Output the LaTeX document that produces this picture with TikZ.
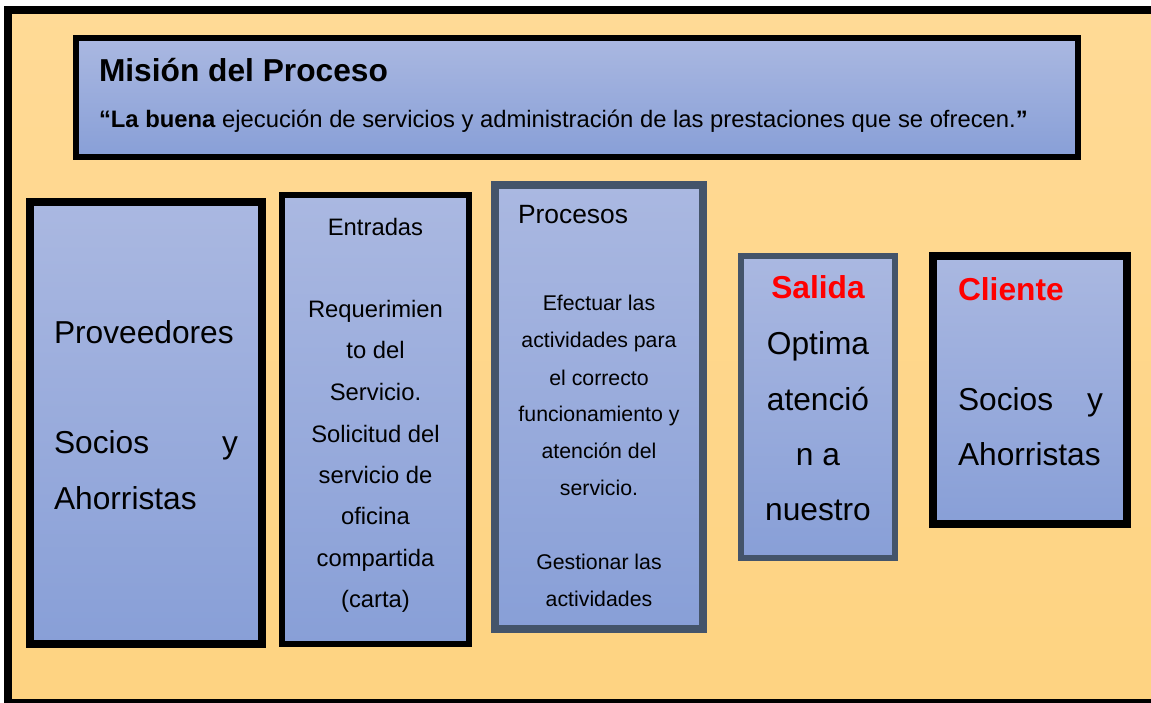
\documentclass[tikz,border=0pt]{standalone}
\usepackage{fontspec}
\setmainfont{Liberation Sans}
\definecolor{peachtop}{HTML}{FFDA96}
\definecolor{peachbot}{HTML}{FED381}
\definecolor{boxtop}{HTML}{AAB8E1}
\definecolor{boxbot}{HTML}{889FD7}
\definecolor{slate}{HTML}{44546A}
\definecolor{redtxt}{HTML}{FF0000}
\tikzset{
  bluebox/.style={top color=boxtop, bottom color=boxbot, inner sep=0pt},
  blackthick/.style={bluebox, draw=black, line width=8pt},
  blackthin/.style={bluebox, draw=black, line width=6pt},
  slatethick/.style={bluebox, draw=slate, line width=8pt},
  slatethin/.style={bluebox, draw=slate, line width=6pt},
  txt/.style={inner sep=0pt, outer sep=0pt, text=black},
  big/.style={txt, font=\fontsize{31.7}{38}\selectfont},
  bigb/.style={txt, font=\fontsize{31.7}{38}\selectfont\bfseries},
  mid/.style={txt, font=\fontsize{23.8}{28}\selectfont},
  proc/.style={txt, font=\fontsize{26.4}{31}\selectfont},
  small/.style={txt, font=\fontsize{21.3}{25}\selectfont},
}
\begin{document}
\begin{tikzpicture}[x=1pt,y=-1pt]
\useasboundingbox (0,0) rectangle (1151,702);
\fill[white] (0,0) rectangle (1151,702);
\begin{scope}
\clip (0,0) rectangle (1151,702);
\shade[top color=peachtop, bottom color=peachbot] (8,10) rectangle (1170,710);
\draw[line width=8pt, line cap=rect] (1170,10) -- (8,10) -- (8,703) -- (1170,703);
\end{scope}
% mission
\node[blackthin, minimum width=1002pt, minimum height=119pt] (mission) at (577,97.5) {};
\node[bigb, anchor=base west] (mtitle) at (99,81) {Misión del Proceso};
\node[mid, anchor=base west] (msub) at (99,127) {\textbf{“La buena} ejecución de servicios y administración de las prestaciones que se ofrecen.\textbf{”}};
% box 1
\node[blackthick, minimum width=232pt, minimum height=442pt] (prov) at (146,423) {};
\node[big, anchor=base west] (p1) at (54,343) {Proveedores};
\node[big, anchor=base west] (p2) at (54,453) {Socios};
\node[big, anchor=base east] (p3) at (238,453) {y};
\node[big, anchor=base west] (p4) at (54,509) {Ahorristas};
% box 2
\node[blackthin, minimum width=187pt, minimum height=449pt] (entr) at (375.5,419.5) {};
\node[mid, anchor=base] (e0) at (375.5,235) {Entradas};
\node[mid, anchor=base] (e1) at (375.5,317) {Requerimien};
\node[mid, anchor=base] (e2) at (375.5,358) {to del};
\node[mid, anchor=base] (e3) at (375.5,400) {Servicio.};
\node[mid, anchor=base] (e4) at (375.5,442) {Solicitud del};
\node[mid, anchor=base] (e5) at (375.5,483) {servicio de};
\node[mid, anchor=base] (e6) at (375.5,524) {oficina};
\node[mid, anchor=base] (e7) at (375.5,566) {compartida};
\node[mid, anchor=base] (e8) at (375.5,607) {(carta)};
% box 3
\node[slatethick, minimum width=208pt, minimum height=444pt] (proc) at (599,407) {};
\node[proc, anchor=base west] (r0) at (518,223) {Procesos};
\node[small, anchor=base] (r1) at (599,310) {Efectuar las};
\node[small, anchor=base] (r2) at (599,347) {actividades para};
\node[small, anchor=base] (r3) at (599,385) {el correcto};
\node[small, anchor=base] (r4) at (599,421) {funcionamiento y};
\node[small, anchor=base] (r5) at (599,458) {atención del};
\node[small, anchor=base] (r6) at (599,495) {servicio.};
\node[small, anchor=base] (r7) at (599,569) {Gestionar las};
\node[small, anchor=base] (r8) at (599,606) {actividades};
% box 4
\node[slatethin, minimum width=154pt, minimum height=302pt] (sal) at (818,407) {};
\node[bigb, text=redtxt, anchor=base] (s0) at (818,298) {Salida};
\node[big, anchor=base] (s1) at (818,354) {Optima};
\node[big, anchor=base] (s2) at (818,410) {atenció};
\node[big, anchor=base] (s3) at (818,465) {n a};
\node[big, anchor=base] (s4) at (818,520) {nuestro};
% box 5
\node[blackthick, minimum width=194pt, minimum height=268pt] (cli) at (1030,390) {};
\node[bigb, text=redtxt, anchor=base west] (c0) at (958,300) {Cliente};
\node[big, anchor=base west] (c1) at (958,410) {Socios};
\node[big, anchor=base east] (c2) at (1103,410) {y};
\node[big, anchor=base west] (c3) at (958,465) {Ahorristas};
\end{tikzpicture}
\end{document}
